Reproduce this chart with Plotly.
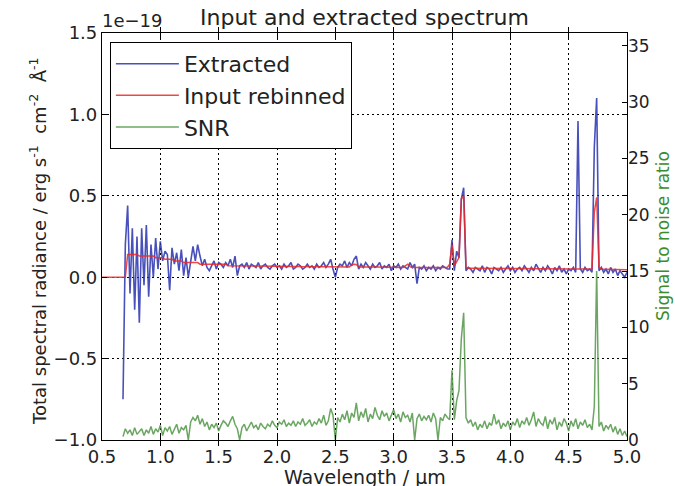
import numpy as np
import plotly.graph_objects as go

# Wavelength sampling grid (micrometres)
wavelength = np.round(np.arange(0.68, 5.0001, 0.02), 2).tolist()

# Extracted spectrum (units of 1e-19 erg s^-1 cm^-2 A^-1)
extracted = [
    -0.75, 0.20, 0.44, -0.10, 0.30, -0.20, 0.25, -0.28, 0.30, -0.05,
    0.32, -0.12, 0.20, 0.00, 0.24, 0.05, 0.22, 0.10, 0.16, 0.14,
    -0.08, 0.18, 0.08, 0.15, 0.04, 0.17, 0.01, 0.12, 0.00, 0.10,
    0.19, 0.10, 0.20, 0.13, 0.07, 0.11, 0.06, 0.04, 0.07, 0.10,
    0.05, 0.09, 0.08, 0.06, 0.09, 0.07, 0.11, 0.06, 0.13, 0.01,
    0.07, 0.08, 0.06, 0.09, 0.05, 0.08, 0.07, 0.06, 0.09, 0.05,
    0.07, 0.08, 0.06, 0.05, 0.07, 0.08, 0.06, 0.07, 0.05, 0.08,
    0.06, 0.07, 0.09, 0.05, 0.06, 0.08, 0.07, 0.05, 0.06, 0.08,
    0.06, 0.07, 0.05, 0.08, 0.06, 0.07, 0.09, 0.06, 0.08, 0.11,
    0.05, 0.00, 0.06, 0.08, 0.07, 0.10, 0.06, 0.09, 0.07, 0.11,
    0.13, 0.05, 0.08, 0.06, 0.09, 0.07, 0.05, 0.08, 0.06, 0.07,
    0.09, 0.05, 0.07, 0.06, 0.08, 0.04, 0.07, 0.06, 0.08, 0.05,
    0.07, 0.06, 0.05, 0.09, 0.06, 0.08, -0.04, 0.06, 0.05, 0.07,
    0.04, 0.06, 0.05, 0.07, 0.04, 0.06, 0.05, 0.07, 0.06, 0.05,
    0.05, 0.23, 0.04, 0.16, 0.12, 0.48, 0.55, 0.04, 0.06, 0.05,
    0.03, 0.06, 0.05, 0.04, 0.07, 0.03, 0.06, 0.05, 0.02, 0.06,
    0.05, 0.04, 0.06, 0.03, 0.05, 0.07, 0.04, 0.06, 0.03, 0.05,
    0.06, 0.04, 0.07, 0.05, 0.03, 0.06, 0.04, 0.08, 0.05, 0.03,
    0.06, 0.04, 0.07, 0.05, 0.02, 0.06, 0.04, 0.07, 0.03, 0.05,
    0.02, 0.05, 0.04, 0.06, 0.03, 0.96, 0.05, 0.03, 0.06, 0.04,
    0.05, 0.03, 0.80, 1.10, 0.04, 0.06, 0.03, 0.05, 0.02, 0.06,
    0.03, 0.05, 0.01, 0.04, 0.02, 0.00, 0.03,
]

# Input rebinned spectrum (starts at 0.5 um)
input_wavelength = [0.50, 0.66] + wavelength
input_rebinned = [0.0, 0.0] + [
    0.00, 0.00, 0.14, 0.14, 0.14, 0.14, 0.14, 0.13, 0.13, 0.13,
    0.13, 0.13, 0.13, 0.13, 0.12, 0.12, 0.12, 0.12, 0.11, 0.11,
    0.11, 0.11, 0.10, 0.10, 0.10, 0.10, 0.09, 0.09, 0.09, 0.09,
    0.09, 0.09, 0.09, 0.08, 0.08, 0.08, 0.08, 0.08, 0.08, 0.08,
    0.08, 0.08, 0.08, 0.08, 0.08, 0.07, 0.07, 0.07, 0.07, 0.07,
    0.07, 0.07, 0.07, 0.07, 0.07, 0.07, 0.07, 0.07, 0.07, 0.07,
    0.07, 0.07, 0.07, 0.07, 0.07, 0.066, 0.066, 0.066, 0.066, 0.066,
    0.066, 0.066, 0.066, 0.066, 0.066, 0.065, 0.065, 0.065, 0.065, 0.065,
    0.065, 0.065, 0.065, 0.065, 0.065, 0.064, 0.064, 0.064, 0.064, 0.064,
    0.064, 0.064, 0.064, 0.064, 0.064, 0.063, 0.063, 0.063, 0.075, 0.080,
    0.078, 0.063, 0.063, 0.062, 0.062, 0.062, 0.062, 0.062, 0.062, 0.062,
    0.061, 0.061, 0.061, 0.061, 0.061, 0.060, 0.060, 0.060, 0.060, 0.060,
    0.060, 0.070, 0.080, 0.065, 0.059, 0.059, 0.059, 0.059, 0.059, 0.059,
    0.058, 0.058, 0.058, 0.058, 0.058, 0.057, 0.057, 0.057, 0.057, 0.060,
    0.080, 0.200, 0.070, 0.100, 0.120, 0.480, 0.500, 0.060, 0.055, 0.055,
    0.055, 0.055, 0.055, 0.055, 0.055, 0.054, 0.054, 0.054, 0.054, 0.054,
    0.054, 0.054, 0.054, 0.054, 0.054, 0.053, 0.053, 0.053, 0.053, 0.053,
    0.053, 0.053, 0.053, 0.053, 0.053, 0.052, 0.052, 0.052, 0.052, 0.052,
    0.052, 0.052, 0.052, 0.052, 0.052, 0.051, 0.051, 0.051, 0.051, 0.051,
    0.051, 0.051, 0.051, 0.051, 0.051, 0.050, 0.050, 0.050, 0.050, 0.050,
    0.050, 0.050, 0.400, 0.490, 0.060, 0.049, 0.049, 0.049, 0.048, 0.048,
    0.048, 0.048, 0.047, 0.047, 0.047, 0.047, 0.046,
]

# Signal to noise ratio
snr = [
    0.3, 1.0, 0.6, 0.9, 0.4, 1.1, 0.5, 0.8, 1.0, 0.4,
    0.9, 0.6, 1.2, 0.5, 1.0, 0.7, 1.3, 0.4, 1.1, 0.8,
    1.2, 0.5, 1.0, 1.4, 0.6, 1.1, 0.9, 1.3, 0.0, 1.6,
    2.0, 1.7, 2.2, 1.4, 1.9, 1.2, 1.6, 0.9, 1.4, 1.1,
    1.5, 0.8, 1.3, 1.7, 1.5, 1.2, 1.7, 2.1, 1.4, 1.0,
    0.0, 1.1, 1.4, 0.8, 1.2, 1.6, 1.1, 1.3, 0.9, 1.5,
    1.2, 1.0, 1.4, 1.2, 1.7, 1.3, 1.1, 1.6, 1.4, 1.8,
    1.2, 1.5, 1.3, 1.7, 1.2, 1.6, 1.4, 1.9, 1.3, 1.5,
    1.8, 1.2, 1.6, 1.4, 1.9, 1.5, 2.2, 1.3, 1.7, 2.8,
    2.2, 0.0, 2.0, 1.6, 2.3, 1.8, 2.6, 1.5, 2.4, 2.0,
    3.3, 1.7, 2.5, 2.0, 2.8, 1.6, 2.3, 1.9, 2.9, 2.2,
    1.8, 2.6, 2.1, 2.4, 1.7, 2.2, 2.7, 1.9, 2.3, 1.6,
    2.5, 2.0, 2.2, 1.6, 2.4, 0.0, 1.9, 2.3, 1.7, 2.1,
    1.8, 2.2, 1.6, 2.4, 1.9, 0.0, 2.0, 1.7, 2.3, 2.0,
    1.8, 6.2, 1.8, 3.5, 4.4, 9.0, 11.3, 2.0, 1.5, 1.8,
    1.2, 1.6, 0.9, 1.4, 1.1, 1.7, 1.0, 1.5, 1.3, 2.3,
    1.4, 1.8, 1.0, 1.5, 1.2, 1.7, 0.9, 1.6, 1.3, 1.9,
    1.1, 1.7, 1.4, 2.0, 1.3, 1.8, 2.5, 1.2, 1.9, 1.5,
    1.3, 2.1, 1.0, 1.8, 1.4, 2.0, 0.9, 1.6, 1.2, 1.9,
    1.5, 0.8, 1.7, 1.2, 1.9, 1.0, 1.6, 1.3, 1.8, 1.1,
    1.4, 0.9, 3.0, 15.0, 1.2, 1.6, 0.8, 1.3, 1.0, 1.4,
    0.7, 1.2, 0.5, 1.0, 0.4, 0.8, 0.3,
]

x_ticks = [0.5, 1.0, 1.5, 2.0, 2.5, 3.0, 3.5, 4.0, 4.5, 5.0]
left_ticks = [-1.0, -0.5, 0.0, 0.5, 1.0, 1.5]
right_ticks = [0, 5, 10, 15, 20, 25, 30, 35]

FONT = "DejaVu Sans"
BLUE = "rgba(40,50,175,0.85)"
RED = "rgba(235,40,40,0.85)"
GREEN = "rgba(80,150,70,0.85)"

# plot-area geometry in pixels
L, R, T, B = 102, 627, 33, 440
PW, PH = R - L, B - T

fig = go.Figure()
fig.add_trace(go.Scatter(x=wavelength, y=extracted, mode="lines", name="Extracted",
                         line=dict(color=BLUE, width=1.6), yaxis="y"))
fig.add_trace(go.Scatter(x=input_wavelength, y=input_rebinned, mode="lines", name="Input rebinned",
                         line=dict(color=RED, width=1.5), yaxis="y"))
fig.add_trace(go.Scatter(x=wavelength, y=snr, mode="lines", name="SNR",
                         line=dict(color=GREEN, width=1.5), yaxis="y2"))

fig.update_layout(
    width=675, height=486,
    margin=dict(l=L, r=675 - R, t=T, b=486 - B, autoexpand=False),
    paper_bgcolor="white", plot_bgcolor="white",
    font=dict(family=FONT, size=18, color="#222"),
    title=dict(text="Input and extracted spectrum", x=(L + PW / 2) / 675, xanchor="center",
               y=1 - 17 / 486, yanchor="middle", font=dict(size=22, family=FONT)),
    xaxis=dict(range=[0.5, 5.0], tickvals=x_ticks, tickformat=".1f",
               showgrid=True, gridcolor="black", griddash="2px,3px", gridwidth=1,
               zeroline=False, showline=True, linecolor="black", linewidth=1.2,
               mirror="allticks", ticks="inside", ticklen=5, tickcolor="black",
               tickfont=dict(size=18)),
    yaxis=dict(range=[-1.0, 1.5], tickvals=left_ticks, tickformat=".1f",
               showgrid=True, gridcolor="black", griddash="2px,3px", gridwidth=1,
               zeroline=False, showline=True, linecolor="black", linewidth=1.2,
               mirror="allticks", ticks="inside", ticklen=5, tickcolor="black",
               tickfont=dict(size=18)),
    yaxis2=dict(range=[0, 36.15], tickvals=right_ticks, overlaying="y", side="right",
                showgrid=False, zeroline=False, showline=False,
                ticks="inside", ticklen=5, tickcolor="black",
                tickfont=dict(size=17)),
    legend=dict(x=0.015, y=0.978, xanchor="left", yanchor="top",
                bgcolor="white", bordercolor="black", borderwidth=1,
                font=dict(size=22, family=FONT), itemwidth=63, tracegroupgap=0),
    showlegend=True,
)

# exponent label
fig.add_annotation(text="1e−19", xref="paper", yref="paper", x=0.0, y=1.0,
                   xanchor="left", yanchor="bottom", showarrow=False,
                   font=dict(size=18, family=FONT), yshift=0, xshift=-2)
# left axis title
fig.add_annotation(text="Total spectral radiance / erg s<sup>-1</sup>  cm<sup>-2</sup>  Å<sup>-1</sup>",
                   xref="paper", yref="paper", x=(38 - L) / PW, y=(B - 241) / PH,
                   xanchor="center", yanchor="middle", textangle=-90, showarrow=False,
                   font=dict(size=18, family=FONT, color="#222"))
# right axis title
fig.add_annotation(text="Signal to noise ratio",
                   xref="paper", yref="paper", x=(663 - L) / PW, y=(B - 236) / PH,
                   xanchor="center", yanchor="middle", textangle=-90, showarrow=False,
                   font=dict(size=17, family=FONT, color="#3c8c2c"))
# x axis title
fig.add_annotation(text="Wavelength / µm",
                   xref="paper", yref="paper", x=0.5, y=-(477 - B) / PH,
                   xanchor="center", yanchor="middle", showarrow=False,
                   font=dict(size=19, family=FONT, color="#222"))

fig.write_html("out.html", config={"displayModeBar": False},
               post_script="document.body.style.margin='0';document.body.style.overflow='hidden';")
